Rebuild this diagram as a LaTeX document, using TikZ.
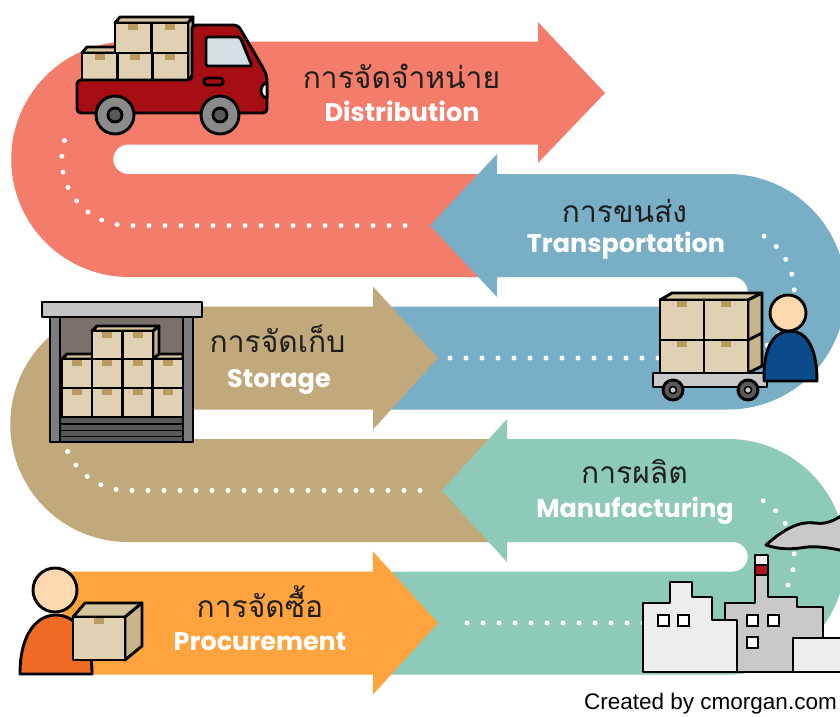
\documentclass[tikz,border=0pt]{standalone}
\usepackage{fontspec}
\newfontfamily\thaifont[Script=Thai]{Loma}
\newfontfamily\latinfont{Poppins}
\newfontfamily\creditfont{Liberation Sans}

\definecolor{redband}{HTML}{F47C6B}
\definecolor{blueband}{HTML}{79AEC7}
\definecolor{tanband}{HTML}{C1A97C}
\definecolor{tealband}{HTML}{8DCAB9}
\definecolor{orangeband}{HTML}{FFA33F}
\definecolor{thaiink}{HTML}{1E1E1E}
\definecolor{truckred}{HTML}{A60E14}
\definecolor{windowglass}{HTML}{D2E0E3}
\definecolor{tyre}{HTML}{8A8A8A}
\definecolor{hub}{HTML}{5A5A5A}
\definecolor{boxfront}{HTML}{DFD1B2}
\definecolor{boxside}{HTML}{C9B58A}
\definecolor{boxtop}{HTML}{D6C6A0}
\definecolor{tape}{HTML}{B99B62}
\definecolor{skin}{HTML}{FED9AF}
\definecolor{navy}{HTML}{0B4A8B}
\definecolor{shirt}{HTML}{EF6A23}
\definecolor{lightgray}{HTML}{EDEDED}
\definecolor{midgray}{HTML}{C9C9C9}
\definecolor{chimneyred}{HTML}{B3131B}
\definecolor{roofgray}{HTML}{C4C4C4}
\definecolor{postgray}{HTML}{7D7D7D}
\definecolor{storeback}{HTML}{7B716B}
\definecolor{shuttergray}{HTML}{575757}

% front face of a carton: x, y (top left), width, height
\newcommand\cartonface[4]{%
  \fill[boxfront] (#1,#2) rectangle ++(#3,#4);
  \fill[tape] ({#1+#3/2-5},{#2+1}) rectangle ++(10,6);
  \draw[outl] (#1,#2) rectangle ++(#3,#4);
}

\tikzset{
  outl/.style={draw=black, line width=2.9pt, line join=round},
  dotline/.style={draw=white, line width=5pt, line cap=round, dash pattern=on 0pt off 16pt},
  thaitxt/.style={font=\thaifont\fontsize{30}{30}\selectfont, text=thaiink, inner sep=0pt, anchor=base},
  engtxt/.style={font=\latinfont\bfseries\fontsize{25.5}{26}\selectfont, text=white, inner sep=0pt, anchor=base},
}

\begin{document}
\begin{tikzpicture}[x=1pt,y=-1pt]
\useasboundingbox (0,0) rectangle (840,716);
\fill[white] (0,0) rectangle (840,716);
\begin{scope}
\clip (0,0) rectangle (840,716);

% ---------- serpentine bands ----------
% distribution (red), arrow to the right
\fill[redband] (538,41.5) -- (129,41.5) arc[start angle=-90,end angle=-270,radius=117.75]
  -- (505,277) -- (505,174) -- (128,174) arc[start angle=90,end angle=270,radius=14.75]
  -- (538,144.5) -- (538,163) -- (605,93) -- (538,22) -- cycle;
% transportation (blue), arrow to the left
\fill[blueband] (497,174) -- (728,174) arc[start angle=-90,end angle=90,radius=117.75]
  -- (378,409.5) -- (378,306.5) -- (733,306.5) arc[start angle=90,end angle=-90,radius=14.75]
  -- (497,277) -- (497,297) -- (430,225.5) -- (497,154) -- cycle;
% storage (tan), arrow to the right
\fill[tanband] (373,306.5) -- (128,306.5) arc[start angle=-90,end angle=-270,radius=117.75]
  -- (510,542) -- (510,439) -- (128,439) arc[start angle=90,end angle=270,radius=14.75]
  -- (373,409.5) -- (373,429.5) -- (438,358) -- (373,286.5) -- cycle;
% manufacturing (teal), arrow to the left
\fill[tealband] (507,439) -- (728,439) arc[start angle=-90,end angle=90,radius=117.75]
  -- (378,674.5) -- (378,571.5) -- (733,571.5) arc[start angle=90,end angle=-90,radius=14.75]
  -- (507,542) -- (507,562) -- (442,490.5) -- (507,419) -- cycle;
% procurement (orange), arrow to the right
\fill[orangeband] (62,571.5) -- (373,571.5) -- (373,551.5) -- (438,623) -- (373,694.5)
  -- (373,674.5) -- (62,674.5) -- cycle;

% ---------- dotted guide lines ----------
\draw[dotline] (405,225.5) -- (128,225.5) arc[start angle=90,end angle=203,radius=66.25];
\draw[dotline] (450,358) -- (728,358) arc[start angle=90,end angle=-60,radius=66.25];
\draw[dotline] (420,490.5) -- (128,490.5) arc[start angle=90,end angle=165,radius=66.25];
\draw[dotline] (467,623) -- (728,623) arc[start angle=90,end angle=-60,radius=66.25];

% ---------- labels ----------
\node[thaitxt] (distTH) at (401.5,88) {การจัดจำหน่าย};
\node[engtxt] (distEN) at (402,121) {Distribution};
\node[thaitxt] (tranTH) at (624.5,222) {การขนส่ง};
\node[engtxt] (tranEN) at (626,252) {Transportation};
\node[thaitxt] (storTH) at (277.5,352) {การจัดเก็บ};
\node[engtxt] (storEN) at (279,387) {Storage};
\node[thaitxt] (manuTH) at (634.5,483) {การผลิต};
\node[engtxt] (manuEN) at (635,517) {Manufacturing};
\node[thaitxt] (procTH) at (260,617) {การจัดซื้อ};
\node[engtxt] (procEN) at (260,650) {Procurement};

% ---------- delivery truck ----------
\filldraw[outl, fill=boxtop] (115,23) -- (120,17) -- (193,17) -- (188,23) -- cycle;
\filldraw[outl, fill=boxside] (188,23) -- (193,17) -- (193,75) -- (188,80) -- cycle;
\filldraw[outl, fill=boxtop] (82,53) -- (87,47) -- (120,47) -- (115,53) -- cycle;
\cartonface{115}{23}{36.5}{30}
\cartonface{151.5}{23}{36.5}{30}
\cartonface{82}{53}{35.3}{27}
\cartonface{117.3}{53}{35.3}{27}
\cartonface{152.6}{53}{35.4}{27}
\filldraw[outl, fill=truckred, rounded corners=4pt] (77,80) -- (192,80) -- (192,25) -- (238,25)
  -- (262,66) -- (267,76) -- (267,113) -- (77,113) -- cycle;
\filldraw[outl, fill=windowglass, rounded corners=2pt] (206,37) -- (240,37) -- (252,66) -- (206,66) -- cycle;
\filldraw[outl, fill=truckred, rounded corners=3pt] (204,78) rectangle (223,85);
\filldraw[outl, fill=white] (267,83) arc[start angle=-90,end angle=-270,x radius=6,y radius=7.5] -- cycle;
\foreach \wx in {115,220}{
  \filldraw[outl, fill=tyre] (\wx,115) circle[radius=19];
  \filldraw[outl, fill=hub] (\wx,115) circle[radius=7];
}

% ---------- warehouse ----------
\fill[storeback] (60,317) rectangle (183,442);
\filldraw[outl, fill=boxtop] (62,359) -- (67,354) -- (97,354) -- (92,359) -- cycle;
\filldraw[outl, fill=boxtop] (153,359) -- (158,354) -- (183,354) -- (183,359) -- cycle;
\filldraw[outl, fill=boxtop] (92,331) -- (97,326) -- (159,326) -- (153,331) -- cycle;
\filldraw[outl, fill=boxside] (153,331) -- (159,326) -- (159,354) -- (153,359) -- cycle;
\cartonface{92}{331}{30.5}{28}
\cartonface{122.5}{331}{30.5}{28}
\foreach \bx in {62,92,122.5,153}{
  \cartonface{\bx}{359}{30}{29}
  \cartonface{\bx}{388}{30}{29}
}
\filldraw[outl, fill=shuttergray] (60,417) rectangle (183,442);
\foreach \sy in {424,430.5,436.5}{\draw[black, line width=1.8pt] (60,\sy) -- (183,\sy);}
\filldraw[outl, fill=postgray] (50,317) rectangle (60,442);
\filldraw[outl, fill=postgray] (183,317) rectangle (193,442);
\filldraw[outl, fill=roofgray] (42,302) rectangle (202,317);

% ---------- hand cart and porter ----------
\filldraw[outl, fill=boxtop] (660,300) -- (672,293) -- (762,293) -- (748,300) -- cycle;
\filldraw[outl, fill=boxside] (748,300) -- (762,293) -- (762,366) -- (748,373) -- cycle;
\draw[outl] (748,340) -- (762,333);
\cartonface{660}{300}{44}{40}
\cartonface{704}{300}{44}{40}
\cartonface{660}{340}{44}{33}
\cartonface{704}{340}{44}{33}
\filldraw[outl, fill=midgray] (653,373) rectangle (767,387);
\foreach \wx in {673,748}{
  \filldraw[outl, fill=hub] (\wx,390) circle[radius=10];
  \filldraw[black, fill=midgray, line width=1.5pt] (\wx,390) circle[radius=3.5];
}
\filldraw[outl, fill=navy] (764,381) .. controls (763,345) and (775,331) .. (790,331)
  .. controls (805,331) and (817,345) .. (817,381) -- cycle;
\filldraw[outl, fill=skin] (788,313) circle[radius=18];

% ---------- factory ----------
\filldraw[outl, fill=midgray] (766,545) .. controls (785,528) and (800,521) .. (815,523)
  .. controls (828,525) and (836,519) .. (848,512) -- (848,552)
  .. controls (832,548) and (815,545) .. (800,548) .. controls (785,550) and (775,548) .. (766,545) -- cycle;
\fill[midgray] (725,672) -- (725,603) -- (755,603) -- (755,555) -- (768,555) -- (768,597)
  -- (797,597) -- (797,607) -- (823,607) -- (823,672) -- cycle;
\fill[lightgray] (755,555) rectangle (768,565);
\fill[chimneyred] (755,565) rectangle (768,575);
\draw[outl] (725,672) -- (725,603) -- (755,603) -- (755,555) -- (768,555) -- (768,597)
  -- (797,597) -- (797,607) -- (823,607) -- (823,672) -- cycle;
\draw[outl] (755,565) -- (768,565) (755,575) -- (768,575);
\filldraw[outl, fill=lightgray] (643,672) -- (643,603) -- (670,603) -- (670,582) -- (692,582)
  -- (692,597) -- (712,597) -- (712,620) -- (737,620) -- (737,672) -- cycle;
\filldraw[outl, fill=lightgray] (793,672) -- (793,638) -- (850,638) -- (850,672) -- cycle;
\foreach \qx/\qy in {658/615,678/615,747/615,768/615,747/637}{
  \filldraw[black, fill=white, line width=2.6pt] (\qx,\qy) rectangle ++(11,11);
}

% ---------- buyer with a carton ----------
\filldraw[outl, fill=shirt] (20,674) .. controls (20,632) and (38,615) .. (56,615)
  .. controls (74,615) and (92,632) .. (92,674) -- cycle;
\filldraw[outl, fill=skin] (55,590) circle[radius=22];
\filldraw[outl, fill=boxtop] (73,617) -- (85,603) -- (142,603) -- (125,617) -- cycle;
\filldraw[outl, fill=boxside] (125,617) -- (142,603) -- (142,646) -- (125,660) -- cycle;
\cartonface{73}{617}{52}{43}

\end{scope}

\node[font=\creditfont\fontsize{22.5}{23}\selectfont, anchor=base east, inner sep=0pt] (credit) at (837,709) {Created by cmorgan.com};
\end{tikzpicture}
\end{document}
